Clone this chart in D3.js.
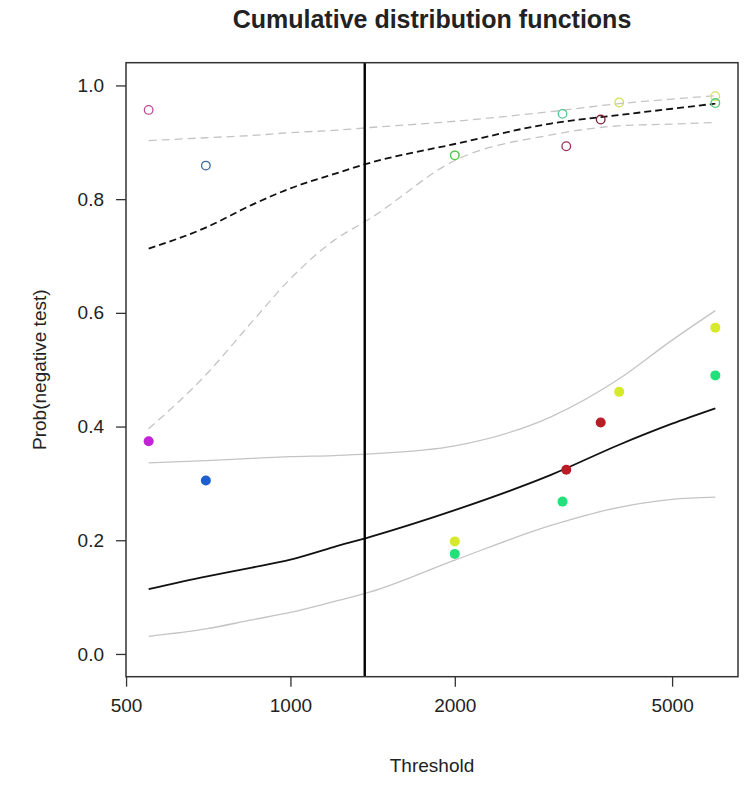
<!DOCTYPE html>
<html><head><meta charset="utf-8">
<script src="https://cdn.jsdelivr.net/npm/d3@7"></script>
<style>body{margin:0;background:#fff} svg{display:block} text{font-family:"Liberation Sans",Arial,sans-serif;fill:#222}</style>
</head><body><svg id="c" width="750" height="789"></svg>
<script>
// ---- data ----
const xTicks = [500, 1000, 2000, 5000];
const yTicks = [0, 0.2, 0.4, 0.6, 0.8, 1.0];
const cutoff = 1368;
const curveThreshold = [550, 700, 850, 1000, 1200, 1400, 2000, 3000, 4000, 5000, 6000];
const fitFilled   = [0.114, 0.136, 0.152, 0.166, 0.188, 0.206, 0.253, 0.315, 0.368, 0.405, 0.432];
const fitFilledLo = [0.031, 0.044, 0.060, 0.073, 0.092, 0.109, 0.165, 0.226, 0.258, 0.272, 0.276];
const fitFilledHi = [0.336, 0.340, 0.344, 0.347, 0.349, 0.352, 0.366, 0.417, 0.484, 0.552, 0.604];
const fitOpen     = [0.713, 0.750, 0.790, 0.819, 0.844, 0.864, 0.897, 0.933, 0.948, 0.959, 0.968];
const fitOpenHi   = [0.903, 0.908, 0.912, 0.917, 0.921, 0.926, 0.937, 0.954, 0.968, 0.976, 0.982];
const fitOpenLo   = [0.396, 0.491, 0.584, 0.660, 0.727, 0.766, 0.868, 0.913, 0.929, 0.932, 0.935];

const pointThreshold = [550, 700, 2000, 2000, 3150, 3200, 3700, 4000, 6000, 6000];
const filledProb     = [0.374, 0.305, 0.198, 0.176, 0.268, 0.324, 0.407, 0.461, 0.574, 0.490];
const openProb       = [0.957, 0.859, 0.877, 0.877, 0.950, 0.893, 0.940, 0.970, 0.981, 0.969];
const filledColor    = ["#c322d6", "#1e5fcf", "#d6ea2a", "#22e07a", "#22e07a", "#b81c24", "#b81c24", "#d6ea2a", "#d6ea2a", "#22e07a"];
const openColor      = ["#c04a9a", "#3a6a9a", "#d0e050", "#50c860", "#50c890", "#9a3055", "#7a2035", "#d0e050", "#d8e060", "#50c870"];

// ---- layout ----
const L = 126, R = 738, T = 62.7, B = 676.7;
const svg = d3.select("#c");

const lo = Math.log10(d3.min(pointThreshold)), hi = Math.log10(d3.max(pointThreshold));
const pad = 0.04 * (hi - lo);
const x = d3.scaleLog().domain([Math.pow(10, lo - pad), Math.pow(10, hi + pad)]).range([L, R]);
const y = d3.scaleLinear().domain([-0.04, 1.04]).range([B, T]);

const line = vals => d3.line()
  .x((d, i) => x(curveThreshold[i]))
  .y(d => y(d))
  .curve(d3.curveMonotoneX)(vals);

const g = svg.append("g");
// CI curves
g.append("path").attr("d", line(fitFilledLo)).attr("fill", "none").attr("stroke", "#c4c4c4").attr("stroke-width", 1.3);
g.append("path").attr("d", line(fitFilledHi)).attr("fill", "none").attr("stroke", "#c4c4c4").attr("stroke-width", 1.3);
g.append("path").attr("d", line(fitOpenLo)).attr("fill", "none").attr("stroke", "#c4c4c4").attr("stroke-width", 1.3).attr("stroke-dasharray", "8,5");
g.append("path").attr("d", line(fitOpenHi)).attr("fill", "none").attr("stroke", "#c4c4c4").attr("stroke-width", 1.3).attr("stroke-dasharray", "8,5");
// fitted curves
g.append("path").attr("d", line(fitFilled)).attr("fill", "none").attr("stroke", "#111").attr("stroke-width", 1.8);
g.append("path").attr("d", line(fitOpen)).attr("fill", "none").attr("stroke", "#111").attr("stroke-width", 1.8).attr("stroke-dasharray", "7,4");

// vertical cutoff line
g.append("line").attr("x1", x(cutoff)).attr("x2", x(cutoff)).attr("y1", T).attr("y2", B)
  .attr("stroke", "#000").attr("stroke-width", 2.4);

// points
g.selectAll("circle.open").data(pointThreshold).enter().append("circle")
  .attr("class", "open").attr("cx", d => x(d)).attr("cy", (d, i) => y(openProb[i]))
  .attr("r", 4.3).attr("fill", "none").attr("stroke", (d, i) => openColor[i]).attr("stroke-width", 1.3);
g.selectAll("circle.filled").data(pointThreshold).enter().append("circle")
  .attr("class", "filled").attr("cx", d => x(d)).attr("cy", (d, i) => y(filledProb[i]))
  .attr("r", 5).attr("fill", (d, i) => filledColor[i]);

// box
svg.append("rect").attr("x", L).attr("y", T).attr("width", R - L).attr("height", B - T)
  .attr("fill", "none").attr("stroke", "#333").attr("stroke-width", 1.5);

// axes (R style: no outer ticks, box serves as axis line)
const xAxis = svg.append("g").attr("transform", `translate(0,${B})`)
  .call(d3.axisBottom(x).tickValues(xTicks).tickFormat(d3.format("d")).tickSize(10).tickSizeOuter(0).tickPadding(12));
const yAxis = svg.append("g").attr("transform", `translate(${L},0)`)
  .call(d3.axisLeft(y).tickValues(yTicks).tickFormat(d3.format(".1f")).tickSize(10).tickSizeOuter(0).tickPadding(12));
[xAxis, yAxis].forEach(a => {
  a.select("path.domain").remove();
  a.selectAll("line").attr("stroke", "#333").attr("stroke-width", 1.3);
  a.selectAll("text").style("font-size", "19px").style("font-family", '"Liberation Sans",Arial,sans-serif').attr("fill", "#222");
});

// titles
svg.append("text").attr("x", (L + R) / 2).attr("y", 28).attr("text-anchor", "middle")
  .style("font-size", "25px").style("font-weight", "bold").text("Cumulative distribution functions");
svg.append("text").attr("x", (L + R) / 2).attr("y", 772).attr("text-anchor", "middle")
  .style("font-size", "19px").text("Threshold");
svg.append("text").attr("transform", `translate(46,${(T + B) / 2}) rotate(-90)`).attr("text-anchor", "middle")
  .style("font-size", "19px").text("Prob(negative test)");
</script></body></html>
